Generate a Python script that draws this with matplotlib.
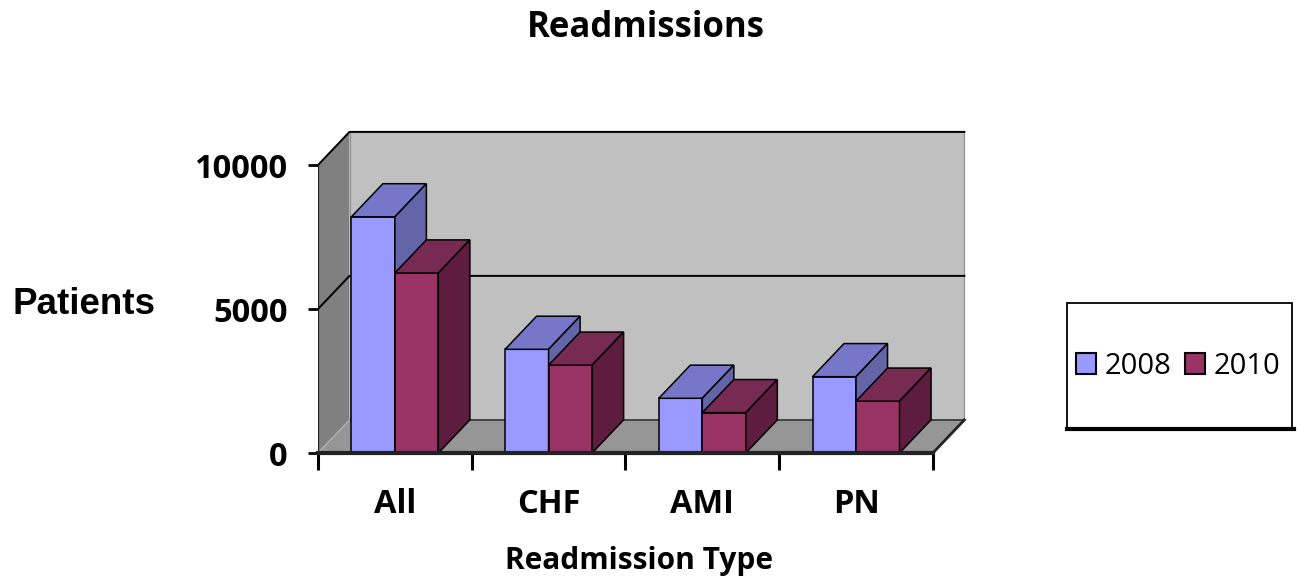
import matplotlib
matplotlib.use('Agg')
import matplotlib.pyplot as plt
from matplotlib.patches import Polygon, Rectangle, Patch
from matplotlib.lines import Line2D
import numpy as np

categories = ['All', 'CHF', 'AMI', 'PN']
series_names = ['2008', '2010']
values_2008 = [8200, 3600, 1900, 2650]
values_2010 = [6250, 3050, 1400, 1800]
y_ticks = [0, 5000, 10000]

# colours for front / top / side faces
colors_2008 = ['#9999FF', '#7777C9', '#6464A8']
colors_2010 = ['#993366', '#772A52', '#5E1D3E']

# fake 3d depth (in data units)
DX = 0.205
DY = 1150
BAR_W = 0.283
TOP = y_ticks[-1]

fig = plt.figure(figsize=(13, 5.83), dpi=100)
ax = fig.add_axes([318 / 1300, 130 / 583, 661 / 1300, 331.2 / 583])
n = len(categories)
ax.set_xlim(0, n + 0.3)
ax.set_ylim(0, 11500)
for s in ax.spines.values():
    s.set_visible(False)

# walls and floor
side_wall = Polygon([(0, 0), (0, TOP), (DX, TOP + DY), (DX, DY)],
                    facecolor='#808080', edgecolor='none', zorder=0.5)
back_wall = Polygon([(DX, DY), (DX, TOP + DY), (n + DX, TOP + DY), (n + DX, DY)],
                    facecolor='#C0C0C0', edgecolor='#8a8a8a', lw=0.8, zorder=0.5)
floor = Polygon([(0, 0), (n, 0), (n + DX, DY), (DX, DY)],
                facecolor='#969696', edgecolor='none', zorder=0.6)
for p in [side_wall, back_wall, floor]:
    ax.add_patch(p)

# gridlines on the walls
for t in y_ticks[1:]:
    ax.plot([0, DX, n + DX], [t, t + DY, t + DY], color='black', lw=1.4, zorder=1)
ax.plot([DX, n + DX], [DY, DY], color='#333333', lw=1.2, zorder=1)
ax.plot([0, DX], [0, DY], color='#b0b0b0', lw=1.0, zorder=1)
ax.plot([0, 0], [0, TOP], color='#222222', lw=1.6, zorder=1)
ax.plot([n, n + DX], [0, DY], color='#222222', lw=2.0, zorder=1)


def draw_bars(xs, vals, cols, z):
    ax.bar(xs, vals, width=BAR_W, align='edge', color=cols[0],
           edgecolor='black', lw=1.1, zorder=z)
    for x0, v in zip(xs, vals):
        top = Polygon([(x0, v), (x0 + BAR_W, v), (x0 + BAR_W + DX, v + DY), (x0 + DX, v + DY)],
                      facecolor=cols[1], edgecolor='black', lw=1.1, zorder=z)
        side = Polygon([(x0 + BAR_W, 0), (x0 + BAR_W + DX, DY), (x0 + BAR_W + DX, v + DY), (x0 + BAR_W, v)],
                       facecolor=cols[2], edgecolor='black', lw=1.1, zorder=z)
        ax.add_patch(top)
        ax.add_patch(side)


centers = np.arange(n) + 0.5
draw_bars(centers - BAR_W, values_2008, colors_2008, 3)
draw_bars(centers, values_2010, colors_2010, 4)

# front axis line
ax.plot([0, n], [0, 0], color='#222222', lw=3.0, zorder=6, clip_on=False)

# ticks
ax.set_yticks(y_ticks)
ax.set_yticklabels([str(t) for t in y_ticks], fontfamily='Open Sans', fontweight='bold', fontsize=23.5)
ax.tick_params(axis='y', length=7, width=2, pad=15, colors='black')
ax.set_xticks(np.arange(n + 1))
ax.set_xticklabels([''] * (n + 1))
ax.tick_params(axis='x', which='major', length=12, width=2.2)
ax.set_xticks(centers, minor=True)
ax.set_xticklabels(categories, minor=True, fontfamily='Open Sans', fontweight='bold', fontsize=23.5)
ax.tick_params(axis='x', which='minor', length=0, pad=25)

ax.set_xlabel('Readmission Type', fontfamily='Open Sans', fontweight='bold', fontsize=21.5,
              va='center')
ax.xaxis.set_label_coords((639 - 318) / 661, (453 - 561) / 331.2)
ax.set_ylabel('Patients', fontfamily='Liberation Sans', fontweight='bold', fontsize=26.5,
              rotation=0, ha='center', va='center')
ax.yaxis.set_label_coords((84 - 318) / 661, (453 - 305) / 331.2)

fig.text(646 / 1300, 1 - 28 / 583, 'Readmissions', fontfamily='Open Sans', fontweight='bold',
         fontsize=25, ha='center', va='center')

# legend with its own frame
fig.patches.append(Rectangle((1067 / 1300, 1 - 428 / 583), 225 / 1300, 125 / 583,
                             transform=fig.transFigure, facecolor='white', edgecolor='black',
                             lw=1.3, zorder=0))
fig.lines.append(Line2D([1067 / 1300, 1294 / 1300], [1 - 429 / 583, 1 - 429 / 583],
                        transform=fig.transFigure, color='black', lw=3))
handles = [Patch(facecolor=colors_2008[0], edgecolor='black', lw=1.5),
           Patch(facecolor=colors_2010[0], edgecolor='black', lw=1.5)]
fig.legend(handles, series_names, loc='center left', bbox_to_anchor=(1076 / 1300, 1 - 366 / 583),
           ncol=2, frameon=False, prop={'family': 'Open Sans', 'size': 21},
           handlelength=0.7, handleheight=0.7, handletextpad=0.28, columnspacing=0.45,
           borderpad=0, borderaxespad=0)

fig.savefig('out.png', dpi=100)
